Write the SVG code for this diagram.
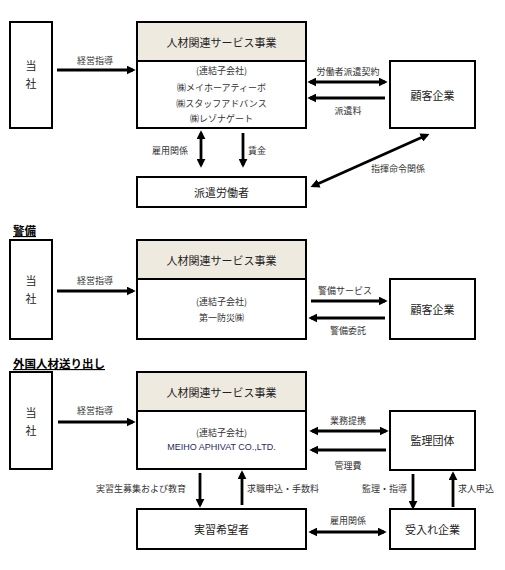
<svg xmlns="http://www.w3.org/2000/svg" width="505" height="570" viewBox="0 0 505 570">
<defs>
<marker id="ah" viewBox="0 0 10 10" refX="7" refY="5" markerUnits="userSpaceOnUse" markerWidth="9" markerHeight="9" orient="auto-start-reverse">
<path d="M0,0 L10,5 L0,10 z" fill="#000"/>
</marker>
<style>
.box{fill:#fff;stroke:#000;stroke-width:2}
.hdr{fill:#eeeae0;stroke:#000;stroke-width:2}
.t{font-family:"Noto Sans CJK JP","Noto Sans",sans-serif;dominant-baseline:central;text-anchor:middle;fill:#222}
.n{font-size:11px}
.b{font-size:9px;fill:#333}
.l{font-size:9px;fill:#333}
.st{font-family:"Noto Sans CJK JP",sans-serif;font-size:11.5px;font-weight:bold;text-decoration:underline;fill:#000;dominant-baseline:central}
.a{stroke:#000;stroke-width:2.8;fill:none;marker-end:url(#ah)}
.d{stroke:#000;stroke-width:2.8;fill:none;marker-end:url(#ah);marker-start:url(#ah)}
</style>
</defs>
<rect width="505" height="570" fill="#fff"/>

<!-- Section 1 -->
<g id="s1-tosha">
<rect class="box" x="10" y="22" width="42" height="106"/>
<text class="t n" x="31" y="65">当</text>
<text class="t n" x="31" y="83">社</text>
</g>
<g id="s1-main">
<rect class="box" x="137" y="22" width="169" height="106"/>
<rect class="hdr" x="137" y="22" width="169" height="39"/>
<text class="t n" x="221.5" y="42">人材関連サービス事業</text>
<text class="t b" x="221.5" y="70">(連結子会社)</text>
<text class="t b" x="221.5" y="87">㈱メイホーアティーボ</text>
<text class="t b" x="221.5" y="103">㈱スタッフアドバンス</text>
<text class="t b" x="221.5" y="118">㈱レゾナゲート</text>
</g>
<g id="s1-client">
<rect class="box" x="390" y="61" width="85" height="67"/>
<text class="t n" x="432.5" y="95">顧客企業</text>
</g>
<g id="s1-worker">
<rect class="box" x="137" y="177" width="169" height="30"/>
<text class="t n" x="221.5" y="192">派遣労働者</text>
</g>
<g id="s1-connectors">
<line class="a" x1="57" y1="70" x2="133" y2="70"/>
<text class="t l" x="95" y="60">経営指導</text>
<line class="d" x1="310" y1="82" x2="385" y2="82"/>
<text class="t l" x="348" y="71">労働者派遣契約</text>
<line class="a" x1="385" y1="98" x2="310" y2="98"/>
<text class="t l" x="348" y="110">派遣料</text>
<line class="d" x1="201" y1="133" x2="201" y2="165"/>
<text class="t l" x="170" y="150">雇用関係</text>
<line class="a" x1="243" y1="133" x2="243" y2="165"/>
<text class="t l" x="257" y="150">賃金</text>
<line class="d" x1="313" y1="186" x2="427" y2="135"/>
<text class="t l" x="398" y="168">指揮命令関係</text>
</g>

<!-- Section 2 -->
<text class="st" x="13" y="230">警備</text>
<g id="s2-tosha">
<rect class="box" x="10" y="240" width="42" height="99"/>
<text class="t n" x="31" y="280">当</text>
<text class="t n" x="31" y="298">社</text>
</g>
<g id="s2-main">
<rect class="box" x="137" y="240" width="169" height="99"/>
<rect class="hdr" x="137" y="240" width="169" height="39"/>
<text class="t n" x="221.5" y="260">人材関連サービス事業</text>
<text class="t b" x="221.5" y="301">(連結子会社)</text>
<text class="t b" x="221.5" y="317">第一防災㈱</text>
</g>
<g id="s2-client">
<rect class="box" x="390" y="279" width="85" height="60"/>
<text class="t n" x="432.5" y="309">顧客企業</text>
</g>
<g id="s2-connectors">
<line class="a" x1="57" y1="291" x2="133" y2="291"/>
<text class="t l" x="95" y="280">経営指導</text>
<line class="a" x1="311" y1="301" x2="385" y2="301"/>
<text class="t l" x="345" y="290">警備サービス</text>
<line class="a" x1="385" y1="318" x2="311" y2="318"/>
<text class="t l" x="348" y="330">警備委託</text>
</g>

<!-- Section 3 -->
<text class="st" x="13" y="363">外国人材送り出し</text>
<g id="s3-tosha">
<rect class="box" x="10" y="372" width="42" height="97"/>
<text class="t n" x="31" y="412">当</text>
<text class="t n" x="31" y="430">社</text>
</g>
<g id="s3-main">
<rect class="box" x="137" y="372" width="169" height="97"/>
<rect class="hdr" x="137" y="372" width="169" height="39"/>
<text class="t n" x="221.5" y="392">人材関連サービス事業</text>
<text class="t b" x="221.5" y="432">(連結子会社)</text>
<text class="t b" x="221.5" y="447" style="font-family:'Liberation Sans',sans-serif;fill:#2a2a5a">MEIHO APHIVAT CO.,LTD.</text>
</g>
<g id="s3-kanri">
<rect class="box" x="390" y="411" width="85" height="59"/>
<text class="t n" x="432.5" y="440">監理団体</text>
</g>
<g id="s3-trainee">
<rect class="box" x="137" y="509" width="169" height="40"/>
<text class="t n" x="221.5" y="529">実習希望者</text>
</g>
<g id="s3-ukeire">
<rect class="box" x="390" y="509" width="85" height="40"/>
<text class="t n" x="432.5" y="529">受入れ企業</text>
</g>
<g id="s3-connectors">
<line class="a" x1="58" y1="422" x2="133" y2="422"/>
<text class="t l" x="95" y="410">経営指導</text>
<line class="a" x1="200" y1="473" x2="200" y2="505"/>
<text class="t l" x="186" y="488" style="text-anchor:end">実習生募集および教育</text>
<line class="a" x1="242" y1="505" x2="242" y2="473"/>
<text class="t l" x="247" y="488" style="text-anchor:start">求職申込・手数料</text>
<line class="d" x1="312" y1="431" x2="386" y2="431"/>
<text class="t l" x="348" y="420">業務提携</text>
<line class="a" x1="386" y1="450" x2="312" y2="450"/>
<text class="t l" x="348" y="465">管理費</text>
<line class="a" x1="413" y1="474" x2="413" y2="507"/>
<text class="t l" x="407" y="488" style="text-anchor:end">監理・指導</text>
<line class="a" x1="453" y1="507" x2="453" y2="474"/>
<text class="t l" x="458" y="488" style="text-anchor:start">求人申込</text>
<line class="d" x1="311" y1="532" x2="384" y2="532"/>
<text class="t l" x="348" y="520">雇用関係</text>
</g>
</svg>
